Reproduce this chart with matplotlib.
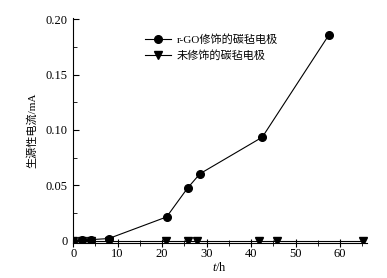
import matplotlib
matplotlib.use('Agg')
import matplotlib.pyplot as plt
from matplotlib.ticker import MultipleLocator, FixedFormatter, FixedLocator

plt.rcParams['font.family'] = ['Liberation Serif', 'Noto Sans CJK SC']
plt.rcParams['mathtext.fontset'] = 'custom'
plt.rcParams['mathtext.it'] = 'Liberation Serif:italic'
plt.rcParams['mathtext.rm'] = 'Liberation Serif'

# r-GO修饰的碳毡电极
t_go = [0, 2, 4, 8, 21, 25.7, 28.5, 42.5, 57.5]
i_go = [0.0, 0.001, 0.001, 0.002, 0.0215, 0.0475, 0.0605, 0.0935, 0.186]

# 未修饰的碳毡电极
t_bare = [0, 2, 4, 8, 20.9, 25.8, 27.8, 41.7, 45.7, 65.2]
i_bare = [0, 0, 0, 0, 0, 0, 0, 0, 0, 0]

labels = ['r-GO修饰的碳毡电极', '未修饰的碳毡电极']

fig = plt.figure(figsize=(3.87, 2.78), dpi=100)
ax = fig.add_axes([0.189, 0.126, 0.759, 0.809])

ax.plot(t_go, i_go, '-o', color='black', lw=0.8, ms=5.5, label=labels[0])
ax.plot(t_bare, i_bare, '-v', color='black', lw=0.8, ms=5.5, label=labels[1])

ax.set_xlim(0, 66)
ax.set_ylim(-0.002, 0.201)
ax.spines['top'].set_visible(False)
ax.spines['right'].set_visible(False)

ax.xaxis.set_major_locator(MultipleLocator(10))
ax.xaxis.set_minor_locator(MultipleLocator(5))
ax.yaxis.set_major_locator(FixedLocator([0, 0.05, 0.10, 0.15, 0.20]))
ax.yaxis.set_major_formatter(FixedFormatter(['0', '0.05', '0.10', '0.15', '0.20']))
ax.yaxis.set_minor_locator(MultipleLocator(0.025))
ax.tick_params(axis='x', which='both', direction='inout', labelsize=9, pad=0.5)
ax.tick_params(axis='x', which='major', length=6)
ax.tick_params(axis='x', which='minor', length=4)
ax.tick_params(axis='y', which='both', direction='in', labelsize=9, pad=4)
ax.tick_params(axis='y', which='major', length=4)
ax.tick_params(axis='y', which='minor', length=3)

ax.set_xlabel('$t$/h', fontsize=9, labelpad=1)
ax.set_ylabel('生源性电流/mA', fontsize=8, labelpad=6)

ax.legend(loc='upper left', bbox_to_anchor=(0.21, 0.975), frameon=False,
          fontsize=8, handlelength=2.4, handletextpad=0.5, labelspacing=0.55)

fig.savefig('out.png', dpi=100)
